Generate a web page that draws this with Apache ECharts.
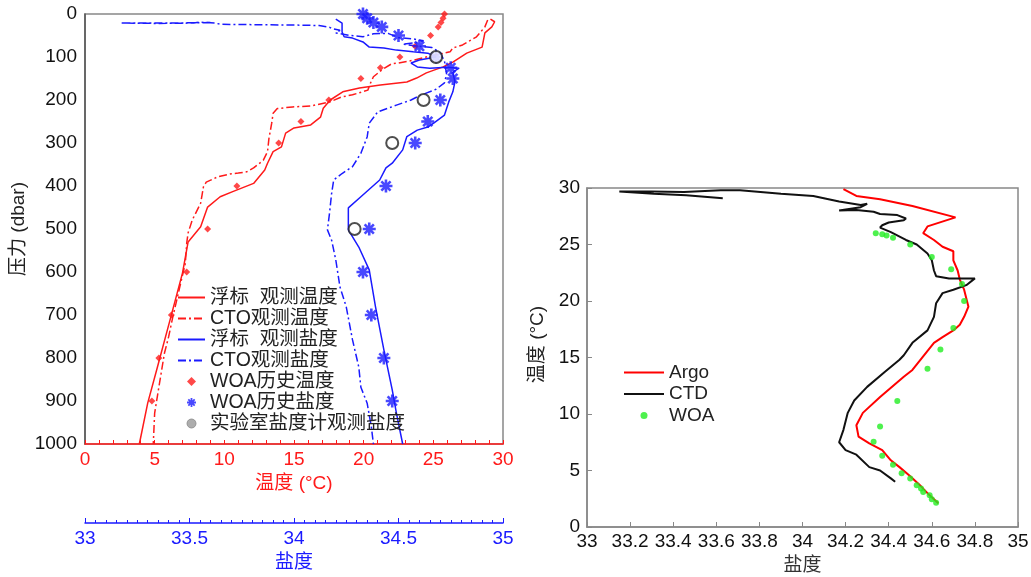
<!DOCTYPE html>
<html>
<head>
<meta charset="utf-8">
<script src="https://cdn.jsdelivr.net/npm/echarts@6/dist/echarts.min.js"></script>
<style>
html,body{margin:0;padding:0;background:#fff;}
#c{width:1031px;height:577px;}
</style>
</head>
<body>
<div id="c"></div>
<script>
// ---------- Left panel data: [value, pressure(dbar)] ----------
const floatTemp = [[29.1,12],[29.4,18],[29.2,30],[28.7,44],[28.5,77],[27.4,91],[26.4,112],[25.7,123],[24.5,137],[23.8,149],[23.1,158],[21.2,165],[19.7,172],[18.5,181],[17.6,200],[17.1,219],[16.9,240],[16.2,258],[15.0,265],[14.4,277],[14.1,309],[13.5,320],[13.1,347],[12.9,363],[12.1,394],[10.6,413],[9.7,425],[8.8,449],[8.3,495],[7.4,530],[7.0,602],[6.1,712],[5.2,821],[4.5,905],[3.9,1000]];
const ctdTemp = [[28.9,14],[28.7,30],[28.1,53],[27.1,72],[26.4,79],[26.2,88],[24.5,100],[23.5,108],[22.5,114],[22.0,116],[21.3,130],[20.7,146],[20.5,160],[20.3,177],[19.9,181],[19.2,188],[18.4,193],[17.6,204],[16.2,214],[14.9,216],[13.8,220],[13.5,231],[13.4,254],[13.2,290],[13.1,320],[12.8,340],[12.1,358],[11.6,367],[11.0,370],[10.4,372],[9.5,379],[8.7,391],[8.5,402],[8.4,421],[8.3,440],[7.7,479],[7.4,509],[7.3,533],[7.2,580],[6.8,635],[6.3,705],[6.0,751],[5.7,789],[5.3,868],[5.0,928],[4.9,1000]];
const floatSal = [[34.20,12],[34.23,21],[34.23,42],[34.24,53],[34.28,56],[34.33,65],[34.36,77],[34.43,79],[34.49,84],[34.57,88],[34.64,91],[34.68,100],[34.60,107],[34.56,114],[34.59,123],[34.65,126],[34.73,124],[34.79,126],[34.76,135],[34.77,158],[34.76,181],[34.74,205],[34.72,235],[34.67,253],[34.64,263],[34.59,270],[34.54,285],[34.52,316],[34.47,347],[34.44,358],[34.41,386],[34.32,425],[34.26,451],[34.26,502],[34.31,542],[34.36,595],[34.39,681],[34.43,781],[34.47,874],[34.49,928],[34.52,1000]];
const ctdSal = [[33.60,20],[33.40,21],[33.17,21],[33.35,22],[33.52,21],[33.55,19],[33.62,21],[33.65,24],[33.85,25],[34.05,26],[34.12,27],[34.17,31],[34.19,35],[34.22,38],[34.20,44],[34.27,50],[34.33,53],[34.38,46],[34.45,45],[34.50,55],[34.57,58],[34.62,62],[34.60,66],[34.52,70],[34.58,74],[34.66,78],[34.70,90],[34.72,110],[34.73,140],[34.72,160],[34.68,175],[34.60,190],[34.56,200],[34.49,212],[34.40,228],[34.36,254],[34.35,286],[34.32,324],[34.28,355],[34.23,371],[34.19,386],[34.18,417],[34.17,463],[34.16,502],[34.18,526],[34.20,572],[34.22,635],[34.25,681],[34.28,758],[34.31,821],[34.32,868],[34.35,905],[34.37,960],[34.38,1000]];
const woaDepth = [0,10,20,30,50,75,100,125,150,200,250,300,400,500,600,700,800,900];
const woaTemp  = [25.8,25.7,25.55,25.35,24.8,23.7,22.6,21.2,19.8,17.5,15.5,13.9,10.9,8.8,7.3,6.2,5.3,4.8];
const woaSal   = [34.33,34.35,34.38,34.42,34.50,34.60,34.68,34.75,34.76,34.70,34.64,34.58,34.44,34.36,34.33,34.37,34.43,34.47];
const labDepth = [100,200,300,500];
const labSal   = [34.68,34.62,34.47,34.29];
const tempTicks = [0,5,10,15,20,25,30];
const salTicksLeft = [33,33.5,34,34.5,35];
const pressureTicks = [0,100,200,300,400,500,600,700,800,900,1000];

// ---------- Right panel data: [salinity, temperature] ----------
const argoTS = [[34.19,29.9],[34.25,29.3],[34.36,29.0],[34.51,28.4],[34.71,27.4],[34.58,26.6],[34.56,26.0],[34.61,25.4],[34.65,24.8],[34.70,24.4],[34.70,23.6],[34.72,22.7],[34.73,21.9],[34.75,21.0],[34.77,19.5],[34.75,18.6],[34.73,17.9],[34.70,17.4],[34.65,16.8],[34.61,16.3],[34.56,15.1],[34.51,13.9],[34.47,13.3],[34.36,11.5],[34.28,10.1],[34.25,9.0],[34.26,8.0],[34.31,7.4],[34.37,6.8],[34.41,5.9],[34.45,5.3],[34.50,4.5],[34.55,3.6],[34.59,2.8],[34.63,2.1]];
const ctdTS = [[33.63,29.1],[33.46,29.35],[33.31,29.5],[33.15,29.7],[33.30,29.68],[33.45,29.65],[33.62,29.8],[33.71,29.8],[33.90,29.5],[34.05,29.3],[34.17,28.8],[34.27,28.5],[34.30,28.6],[34.27,28.3],[34.17,28.0],[34.25,28.05],[34.33,27.9],[34.36,27.7],[34.44,27.6],[34.48,27.3],[34.47,27.15],[34.40,26.95],[34.37,26.7],[34.36,26.5],[34.41,26.1],[34.48,25.4],[34.53,25.0],[34.58,24.2],[34.60,23.6],[34.61,22.7],[34.62,22.2],[34.68,22.0],[34.80,22.0],[34.76,21.4],[34.70,21.0],[34.65,20.7],[34.62,19.8],[34.61,18.6],[34.58,17.4],[34.51,16.3],[34.47,15.2],[34.45,14.8],[34.38,13.7],[34.30,12.4],[34.24,11.2],[34.21,10.1],[34.19,8.6],[34.17,7.5],[34.20,6.8],[34.25,6.4],[34.31,5.3],[34.36,5.0],[34.41,4.3],[34.43,4.0]];
const woaTS = [[34.34,26.0],[34.37,25.9],[34.39,25.8],[34.42,25.6],[34.50,25.0],[34.60,23.9],[34.69,22.8],[34.74,21.5],[34.75,20.0],[34.70,17.6],[34.64,15.7],[34.58,14.0],[34.44,11.15],[34.36,8.9],[34.33,7.55],[34.37,6.3],[34.42,5.5],[34.46,4.75],[34.50,4.3],[34.53,3.7],[34.55,3.4],[34.56,3.1],[34.59,2.8],[34.60,2.45],[34.62,2.15]];

const leftNames = ['浮标  观测温度','CTO观测温度','浮标  观测盐度','CTO观测盐度','WOA历史温度','WOA历史盐度','实验室盐度计观测盐度'];
const rightNames = ['Argo','CTD','WOA'];

const ff = '"Liberation Sans", Arial, "Noto Sans CJK SC", sans-serif';
const RED = '#ff1a1a', BLUE = '#1a1aff';
const dashDot = [8,3,2,3];
const starPath = 'path://M-2,-10 L2,-10 L2,10 L-2,10 Z M-10,-2 L10,-2 L10,2 L-10,2 Z M5.66,-8.49 L8.49,-5.66 L-5.66,8.49 L-8.49,5.66 Z M-8.49,-5.66 L-5.66,-8.49 L8.49,5.66 L5.66,8.49 Z';
const diamondPath = 'path://M0,-10 L10,0 L0,10 L-10,0 Z';

const chart = echarts.init(document.getElementById('c'), null, {renderer:'canvas'});
const txt = (c)=>({color:c, fontSize:19, fontFamily:ff});
const noSym = {opacity:0};

chart.setOption({
  animation:false,
  backgroundColor:'#fff',
  textStyle:{fontFamily:ff},
  grid:[
    {left:85, top:14, width:418, height:430, show:true, borderColor:'#888', borderWidth:1.5, outerBoundsMode:'none', containLabel:false},
    {left:587, top:188, width:431, height:339, show:true, borderColor:'#888', borderWidth:1.5, outerBoundsMode:'none', containLabel:false}
  ],
  xAxis:[
    {gridIndex:0, type:'value', min:tempTicks[0], max:tempTicks[tempTicks.length-1], interval:5, position:'bottom',
     axisLine:{show:true, onZero:false, lineStyle:{color:RED, width:1.5}},
     axisTick:{show:true, inside:true, length:4, lineStyle:{color:RED}},
     minorTick:{show:true, splitNumber:5, length:4, lineStyle:{color:RED}},
     splitLine:{show:false},
     axisLabel:Object.assign({margin:6}, txt(RED)),
     name:'温度 (°C)', nameLocation:'middle', nameGap:30, nameTextStyle:txt(RED)},
    {gridIndex:0, type:'value', min:salTicksLeft[0], max:salTicksLeft[salTicksLeft.length-1], interval:0.5, position:'bottom', offset:79,
     axisLine:{show:true, onZero:false, lineStyle:{color:BLUE, width:1.5}},
     axisTick:{show:true, inside:true, length:5, lineStyle:{color:BLUE}},
     minorTick:{show:true, splitNumber:10, length:3, lineStyle:{color:BLUE}},
     splitLine:{show:false},
     axisLabel:Object.assign({margin:6}, txt(BLUE)),
     name:'盐度', nameLocation:'middle', nameGap:30, nameTextStyle:txt(BLUE)},
    {gridIndex:1, type:'value', min:33, max:35, interval:0.2,
     axisLine:{show:true, onZero:false, lineStyle:{color:'#888', width:1.5}},
     axisTick:{show:true, inside:true, length:5, lineStyle:{color:'#888'}},
     splitLine:{show:false},
     axisLabel:Object.assign({margin:5, formatter:(v)=>String(+v.toFixed(1))}, txt('#111')),
     name:'盐度', nameLocation:'middle', nameGap:27, nameTextStyle:txt('#333')}
  ],
  yAxis:[
    {gridIndex:0, type:'value', inverse:true, min:pressureTicks[0], max:pressureTicks[pressureTicks.length-1], interval:100,
     axisLine:{show:true, onZero:false, lineStyle:{color:'#555', width:1.5}},
     axisTick:{show:false}, splitLine:{show:false},
     axisLabel:Object.assign({margin:8, formatter:(v)=>String(v)}, txt('#111')),
     name:'压力 (dbar)', nameLocation:'middle', nameGap:57, nameRotate:90, nameTextStyle:txt('#222')},
    {gridIndex:1, type:'value', min:0, max:30, interval:5,
     axisLine:{show:true, onZero:false, lineStyle:{color:'#888', width:1.5}},
     axisTick:{show:true, inside:true, length:5, lineStyle:{color:'#888'}},
     splitLine:{show:false},
     axisLabel:Object.assign({margin:7}, txt('#111')),
     name:'温度 (°C)', nameLocation:'middle', nameGap:40, nameRotate:90,
     nameTextStyle:Object.assign({padding:[0,0,0,26]}, txt('#222'))}
  ],
  legend:[
    {data:[
      {name:leftNames[0], itemStyle:noSym},
      {name:leftNames[1], itemStyle:noSym},
      {name:leftNames[2], itemStyle:noSym},
      {name:leftNames[3], itemStyle:noSym},
      {name:leftNames[4], icon:diamondPath},
      {name:leftNames[5], icon:starPath},
      {name:leftNames[6], icon:'circle', itemStyle:{color:'#999', borderColor:'#888', borderWidth:1}}
     ], orient:'vertical', left:172, top:282, itemWidth:27, itemHeight:9, itemGap:0,
     selectedMode:false, textStyle:{fontSize:19.5, color:'#222', fontFamily:ff, lineHeight:21}},
    {data:[
      {name:rightNames[0], itemStyle:noSym},
      {name:rightNames[1], itemStyle:noSym},
      {name:rightNames[2]}
     ], orient:'vertical', left:618, top:357, itemWidth:40, itemHeight:7, itemGap:0.5,
     selectedMode:false, textStyle:{fontSize:19, color:'#222', fontFamily:ff, lineHeight:21}}
  ],
  series:[
    {name:leftNames[0], type:'line', xAxisIndex:0, yAxisIndex:0, data:floatTemp, symbol:'none', lineStyle:{color:RED, width:1.5}, itemStyle:{color:RED}, z:3},
    {name:leftNames[1], type:'line', xAxisIndex:0, yAxisIndex:0, data:ctdTemp, symbol:'none', lineStyle:{color:RED, width:1.5, type:dashDot}, itemStyle:{color:RED}, z:3},
    {name:leftNames[2], type:'line', xAxisIndex:1, yAxisIndex:0, data:floatSal, symbol:'none', lineStyle:{color:BLUE, width:1.5}, itemStyle:{color:BLUE}, z:3},
    {name:leftNames[3], type:'line', xAxisIndex:1, yAxisIndex:0, data:ctdSal, symbol:'none', lineStyle:{color:BLUE, width:1.5, type:dashDot}, itemStyle:{color:BLUE}, z:3},
    {name:leftNames[4], type:'scatter', xAxisIndex:0, yAxisIndex:0, data:woaDepth.map((p,i)=>[woaTemp[i],p]), symbol:'diamond', symbolSize:7, itemStyle:{color:RED}, z:4},
    {name:leftNames[5], type:'scatter', xAxisIndex:1, yAxisIndex:0, data:woaDepth.map((p,i)=>[woaSal[i],p]), symbol:starPath, symbolSize:13, itemStyle:{color:BLUE}, z:4},
    {name:leftNames[6], type:'scatter', xAxisIndex:1, yAxisIndex:0, data:labDepth.map((p,i)=>[labSal[i],p]), symbol:'emptyCircle', symbolSize:12, itemStyle:{color:'#222', borderColor:'#222', borderWidth:1.6}, z:5},
    {name:rightNames[0], type:'line', xAxisIndex:2, yAxisIndex:1, data:argoTS, symbol:'none', lineStyle:{color:'#ff0000', width:2}, itemStyle:{color:'#ff0000'}, z:3},
    {name:rightNames[1], type:'line', xAxisIndex:2, yAxisIndex:1, data:ctdTS, symbol:'none', lineStyle:{color:'#111', width:2}, itemStyle:{color:'#111'}, z:3},
    {name:rightNames[2], type:'scatter', xAxisIndex:2, yAxisIndex:1, data:woaTS, symbol:'circle', symbolSize:6, itemStyle:{color:'#22ee22'}, z:4}
  ]
});
</script>
</body>
</html>
